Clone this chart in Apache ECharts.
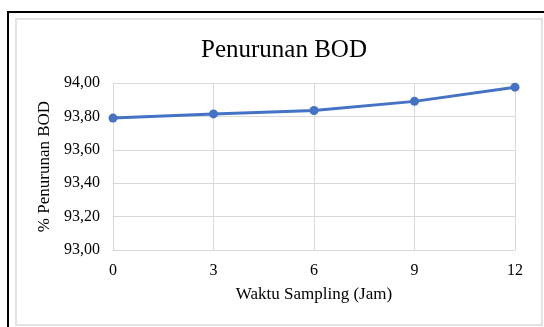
<!DOCTYPE html>
<html>
<head>
<meta charset="utf-8">
<script src="https://cdn.jsdelivr.net/npm/echarts@6/dist/echarts.min.js"></script>
<style>
  html, body { margin: 0; padding: 0; background: #fff; }
  #chart { width: 544px; height: 327px; }
</style>
</head>
<body>
<div id="chart"></div>
<script>
// data
var jam = ['0', '3', '6', '9', '12'];
var penurunanBOD = [93.79, 93.815, 93.835, 93.89, 93.975];
var yMin = 93, yMax = 94, yStep = 0.2;

var font = '"Liberation Serif", "Times New Roman", serif';
var chart = echarts.init(document.getElementById('chart'));

chart.setOption({
  backgroundColor: '#fff',
  animation: false,
  title: {
    text: 'Penurunan BOD',
    left: 196,
    top: 33,
    textStyle: { fontFamily: font, fontSize: 25, fontWeight: 'normal', color: '#000' }
  },
  graphic: [
    // outer black frame
    { type: 'polyline', shape: { points: [[8, 330], [8, 12], [550, 12]] },
      style: { stroke: '#000', lineWidth: 2, fill: null } },
    // inner chart-area frame
    { type: 'rect', shape: { x: 16, y: 19, width: 526, height: 306 },
      style: { stroke: '#e3e3e3', lineWidth: 2, fill: null } }
  ],
  grid: { left: 113, right: 29, top: 83, bottom: 77 },
  xAxis: {
    type: 'category',
    data: jam,
    boundaryGap: false,
    name: 'Waktu Sampling (Jam)',
    nameLocation: 'middle',
    nameGap: 36,
    nameTextStyle: { fontFamily: font, fontSize: 17, color: '#000' },
    axisLine: { lineStyle: { color: '#d9d9d9' } },
    axisTick: { show: false },
    axisLabel: { fontFamily: font, fontSize: 16, color: '#000', margin: 13 },
    splitLine: { show: true, lineStyle: { color: '#d9d9d9' } }
  },
  yAxis: {
    type: 'value',
    min: yMin,
    max: yMax,
    interval: yStep,
    name: '% Penurunan BOD',
    nameLocation: 'middle',
    nameGap: 52,
    nameTextStyle: { fontFamily: font, fontSize: 17, color: '#000' },
    axisLine: { show: false },
    axisTick: { show: false },
    axisLabel: {
      fontFamily: font, fontSize: 16, color: '#000', margin: 13,
      formatter: function (v) { return v.toFixed(2).replace('.', ','); }
    },
    splitLine: { lineStyle: { color: '#d9d9d9' } }
  },
  series: [{
    type: 'line',
    data: penurunanBOD,
    symbol: 'circle',
    symbolSize: 9,
    lineStyle: { color: '#4472c4', width: 3 },
    itemStyle: { color: '#4472c4' }
  }]
});
</script>
</body>
</html>
